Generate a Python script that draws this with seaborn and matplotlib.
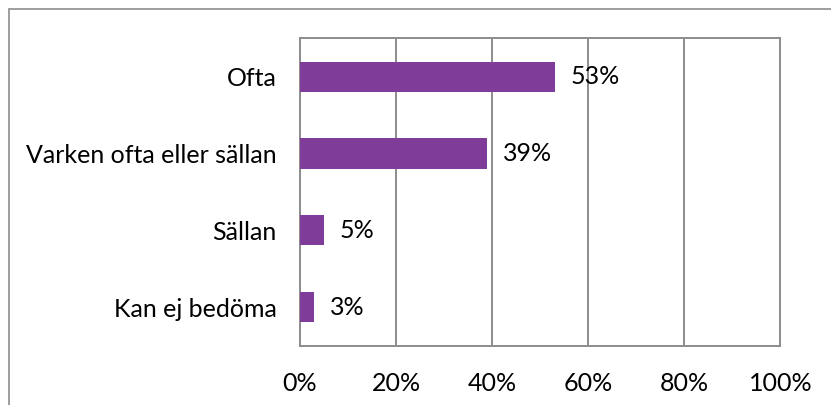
import pandas as pd
import matplotlib.pyplot as plt
import seaborn as sns
from matplotlib.patches import Rectangle

# Data
categories = ['Ofta', 'Varken ofta eller sällan', 'Sällan', 'Kan ej bedöma']
values = [53, 39, 5, 3]
x_ticks = [0, 20, 40, 60, 80, 100]

BAR_COLOR = '#803C99'
GRID_COLOR = '#8C8C8C'


def plot_answers(output_path='out.png'):
    sns.set_style('white')
    plt.rcParams['font.family'] = ['Lato', 'DejaVu Sans']
    plt.rcParams['text.color'] = 'black'
    plt.rcParams['xtick.color'] = 'black'
    plt.rcParams['ytick.color'] = 'black'

    df = pd.DataFrame({'Svar': categories, 'Andel': values})

    fig = plt.figure(figsize=(8.31, 4.05), dpi=100)
    ax = fig.add_axes([0.361, 0.146, 0.578, 0.760])

    sns.barplot(data=df, x='Andel', y='Svar', orient='h', color=BAR_COLOR,
                saturation=1, width=0.39, linewidth=0, ax=ax, zorder=3)

    ax.set_xlim(0, 100)
    ax.set_ylim(3.5, -0.5)
    ax.set_xticks(x_ticks)
    ax.set_xticklabels([f'{t}%' for t in x_ticks], fontsize=18)
    ax.tick_params(axis='x', length=0, pad=19)
    ax.grid(axis='x', color=GRID_COLOR, linewidth=1.4, zorder=0)
    ax.set_axisbelow(True)

    # category ticks sit between the bars, labels at the bars
    ax.set_yticks(range(len(categories)))
    ax.set_yticklabels(categories, fontsize=18)
    ax.set_yticks([0.5, 1.5, 2.5], minor=True)
    ax.tick_params(axis='y', which='major', length=0, pad=17)
    ax.tick_params(axis='y', which='minor', length=5, width=1.2,
                   color=GRID_COLOR, direction='in')

    for side in ['left', 'right', 'top', 'bottom']:
        ax.spines[side].set_visible(True)
        ax.spines[side].set_color(GRID_COLOR)
        ax.spines[side].set_linewidth(1.4)

    ax.set_xlabel('')
    ax.set_ylabel('')

    for i, v in enumerate(values):
        ax.text(v + 3.3, i, f'{v}%', va='center', ha='left', fontsize=18,
                color='black', zorder=4)

    # outer chart border
    fig.patches.append(Rectangle((9 / 831, -0.1), 1.1, 1.1 - 9 / 405,
                                 transform=fig.transFigure, fill=False,
                                 edgecolor=GRID_COLOR, linewidth=1.2))

    fig.savefig(output_path, dpi=100)


if __name__ == '__main__':
    plot_answers()
